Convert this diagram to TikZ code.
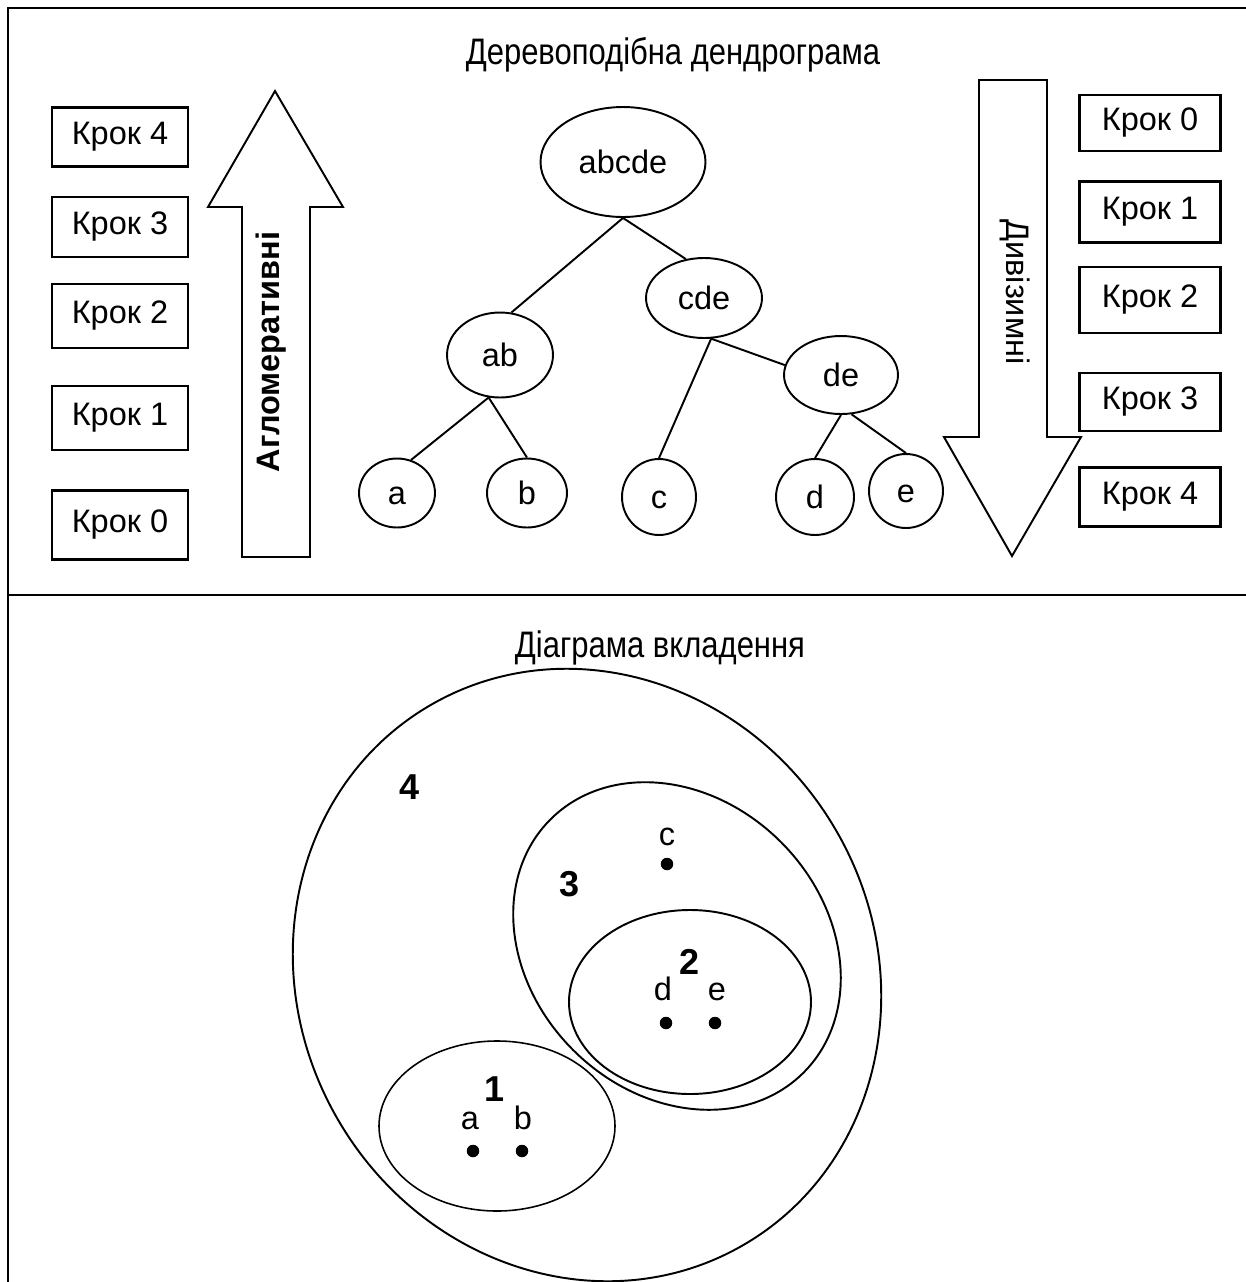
\documentclass[tikz,border=0pt]{standalone}
\usepackage{fontspec}
\setmainfont{Liberation Sans}
\newfontfamily\titlefont{Liberation Sans}[FakeStretch=0.84]
\usetikzlibrary{shapes.geometric}

\tikzset{
  frame/.style={line width=1.6pt},
  krok/.style={draw, line width=1.4pt, minimum width=2.72cm, inner sep=0pt,
    font=\fontsize{18.5}{22}\selectfont},
  krokr/.style={krok, minimum width=2.82cm},
  bigarrow/.style={draw, line width=1.1pt, line join=miter},
  cluster/.style={draw, ellipse, line width=1.1pt, inner sep=0pt,
    text height=15pt, text depth=2pt, font=\fontsize{18.5}{22}\selectfont},
  link/.style={line width=1.1pt},
  setline/.style={line width=1.1pt},
  paneltitle/.style={font=\titlefont\fontsize{21}{25}\selectfont},
  lbl/.style={font=\fontsize{18.5}{22}\selectfont, inner sep=0pt,
    text height=13pt, text depth=4.6pt},
  num/.style={font=\bfseries\fontsize{20.5}{24}\selectfont, inner sep=0pt},
  dot/.style={circle, fill, inner sep=0pt, minimum size=0.25cm}
}

\begin{document}
\begin{tikzpicture}[x=0.02cm, y=-0.02cm]
  \useasboundingbox (0,0) rectangle (1246,1282);
  % frame
  \draw[frame] (1246,8) -- (8,8) -- (8,1282);
  \draw[frame] (8,595) -- (1246,595);

  % dendrogram
  \node[paneltitle] (treetitle) at (673,55) {Деревоподібна дендрограма};

  \node[krok, minimum height=1.18cm] (l4) at (120,137) {Крок 4};
  \node[krok, minimum height=1.2cm]  (l3) at (120,227) {Крок 3};
  \node[krok, minimum height=1.28cm] (l2) at (120,316) {Крок 2};
  \node[krok, minimum height=1.28cm] (l1) at (120,418) {Крок 1};
  \node[krok, minimum height=1.38cm] (l0) at (120,525) {Крок 0};

  \draw[bigarrow] (242,557) -- (242,207) -- (208,207) -- (275,91)
    -- (343,207) -- (310,207) -- (310,557) -- cycle;
  \node[rotate=90, font=\bfseries\fontsize{18.5}{22}\selectfont] (agglo) at (271,352) {Агломеративні};

  \draw[bigarrow] (979,80) -- (979,437) -- (944,437) -- (1012,556)
    -- (1081,437) -- (1047,437) -- (1047,80) -- cycle;
  \node[rotate=-90, font=\fontsize{18.5}{22}\selectfont] (divis) at (1015,292) {Дивізимні};

  \node[krokr, minimum height=1.12cm] (r0) at (1150,123) {Крок 0};
  \node[krokr, minimum height=1.22cm] (r1) at (1150,212) {Крок 1};
  \node[krokr, minimum height=1.32cm] (r2) at (1150,300) {Крок 2};
  \node[krokr, minimum height=1.16cm] (r3) at (1150,402) {Крок 3};
  \node[krokr, minimum height=1.18cm] (r4) at (1150,497) {Крок 4};

  \node[cluster, minimum width=3.3cm, minimum height=2.2cm] (abcde) at (623,162) {abcde};
  \node[cluster, minimum width=2.32cm, minimum height=1.6cm] (cde) at (704,298) {cde};
  \node[cluster, minimum width=2.12cm, minimum height=1.7cm] (ab) at (500,355) {ab};
  \node[cluster, minimum width=2.28cm, minimum height=1.56cm] (de) at (841,375) {de};
  \node[cluster, minimum width=1.52cm, minimum height=1.38cm] (a) at (397,493) {a};
  \node[cluster, minimum width=1.6cm, minimum height=1.38cm] (b) at (527,493) {b};
  \node[cluster, minimum width=1.48cm, minimum height=1.52cm] (c) at (659,497) {c};
  \node[cluster, minimum width=1.56cm, minimum height=1.52cm] (d) at (815,497) {d};
  \node[cluster, minimum width=1.48cm, minimum height=1.48cm] (e) at (906,491) {e};

  \draw[link] (abcde.south) -- (ab.75);
  \draw[link] (abcde.south) -- (cde.115);
  \draw[link] (ab.-105) -- (a.67);
  \draw[link] (ab.-105) -- (b.north);
  \draw[link] (cde.-80) -- (c.north);
  \draw[link] (cde.-80) -- (de.170);
  \draw[link] (de.south) -- (d.north);
  \draw[link] (de.-75) -- (e.north);

  % nesting diagram
  \node[paneltitle] (nesttitle) at (660,648) {Діаграма вкладення};

  \draw[setline, rotate around={30:(587,975)}] (587,975) ellipse [x radius=288, y radius=312];
  \draw[setline, rotate around={45:(677,946)}] (677,946) ellipse [x radius=147, y radius=179];
  \draw[setline] (690,1002) ellipse [x radius=121, y radius=92];
  \draw[line width=0.9pt] (497,1126) ellipse [x radius=118, y radius=85];

  \node[num] (n4) at (410,787) {4};
  \node[num] (n3) at (570,884) {3};
  \node[num] (n2) at (690,962) {2};
  \node[num] (n1) at (495,1089) {1};

  \node[lbl] (lc) at (667,838) {c};
  \node[dot] (pc) at (667,864) {};
  \node[lbl] (ld) at (663,993) {d};
  \node[lbl] (le) at (717,993) {e};
  \node[dot] (pd) at (666,1023) {};
  \node[dot] (pe) at (715,1023) {};
  \node[lbl] (la) at (470,1122) {a};
  \node[lbl] (lb) at (523,1122) {b};
  \node[dot] (pa) at (473,1151) {};
  \node[dot] (pb) at (522,1151) {};
\end{tikzpicture}
\end{document}
